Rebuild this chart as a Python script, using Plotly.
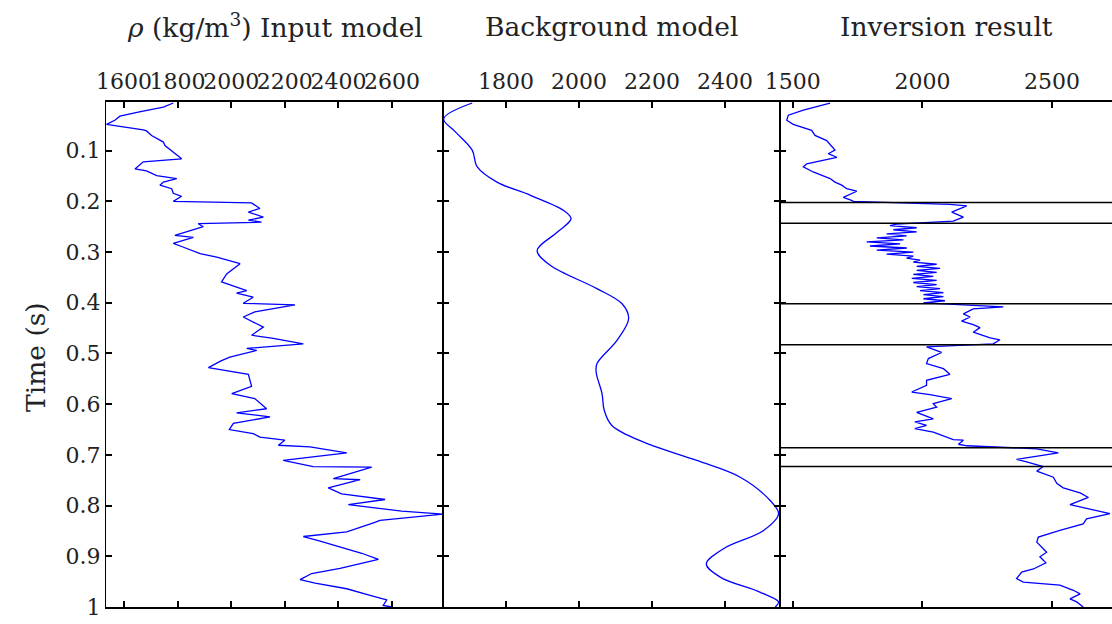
import plotly.graph_objects as go

# ---- density logs (time in s, density in kg/m^3) ----
t_input = [0.006, 0.014, 0.024, 0.032, 0.040, 0.048, 0.059, 0.061, 0.070, 0.083,
           0.090, 0.103, 0.116, 0.122, 0.136, 0.140, 0.149, 0.155, 0.162, 0.168,
           0.175, 0.184, 0.190, 0.200, 0.203, 0.214, 0.221, 0.231, 0.237, 0.241,
           0.244, 0.250, 0.261, 0.267, 0.271, 0.283, 0.289, 0.303, 0.310, 0.323,
           0.343, 0.359, 0.376, 0.381, 0.389, 0.401, 0.404, 0.412, 0.418, 0.428,
           0.448, 0.464, 0.470, 0.481, 0.490, 0.494, 0.507, 0.515, 0.528, 0.541,
           0.565, 0.579, 0.589, 0.609, 0.617, 0.625, 0.638, 0.650, 0.658, 0.665,
           0.671, 0.681, 0.684, 0.696, 0.711, 0.723, 0.724, 0.747, 0.749, 0.765,
           0.777, 0.788, 0.798, 0.811, 0.817, 0.829, 0.833, 0.852, 0.861, 0.869,
           0.879, 0.894, 0.906, 0.924, 0.934, 0.946, 0.953, 0.964, 0.977, 0.986,
           0.997, 1.000]
rho_input = [1784, 1747, 1653, 1585, 1566, 1535, 1672, 1684, 1703, 1747,
             1753, 1784, 1815, 1672, 1641, 1684, 1722, 1797, 1747, 1734,
             1778, 1784, 1815, 1784, 2076, 2107, 2064, 2120, 2064, 2113,
             1877, 1896, 1821, 1790, 1859, 1784, 1815, 1884, 1946, 2033,
             1983, 1964, 2058, 2020, 2082, 2045, 2238, 2151, 2088, 2045,
             2120, 2076, 2157, 2269, 2058, 2095, 1995, 1960, 1915, 2064,
             2076, 2002, 2088, 2132, 2020, 2145, 2008, 1993, 2082, 2107,
             2200, 2176, 2294, 2431, 2194, 2306, 2524, 2381, 2481, 2362,
             2412, 2574, 2437, 2636, 2790, 2555, 2536, 2431, 2269, 2325,
             2393, 2487, 2549, 2406, 2300, 2257, 2313, 2431, 2518, 2580,
             2567, 2599]

t_background = [0.006, 0.037, 0.063, 0.099, 0.132, 0.162, 0.188, 0.218, 0.234, 0.261,
                0.297, 0.326, 0.372, 0.402, 0.431, 0.474, 0.520, 0.537, 0.579, 0.612,
                0.642, 0.675, 0.711, 0.744, 0.790, 0.816, 0.849, 0.885, 0.915, 0.941,
                0.971, 0.990, 1.000]
rho_background = [1707, 1629, 1661, 1707, 1721, 1775, 1867, 1958, 1978, 1940,
                  1885, 1921, 2049, 2118, 2136, 2104, 2049, 2047, 2063, 2069,
                  2090, 2177, 2323, 2442, 2524, 2547, 2506, 2396, 2349, 2387,
                  2497, 2547, 2538]

t_inversion = [0.006, 0.020, 0.030, 0.040, 0.048, 0.060, 0.070, 0.080, 0.099, 0.106,
               0.113, 0.119, 0.126, 0.132, 0.142, 0.155, 0.162, 0.168, 0.175, 0.180,
               0.192, 0.198, 0.200, 0.206, 0.209, 0.221, 0.231, 0.239, 0.245,
               0.248, 0.252, 0.256, 0.260, 0.264, 0.268, 0.272, 0.276, 0.280, 0.284,
               0.288, 0.292, 0.296, 0.300, 0.304, 0.308, 0.312, 0.316, 0.320, 0.324,
               0.328, 0.332, 0.336, 0.340, 0.344, 0.348, 0.352, 0.356, 0.360, 0.364,
               0.368, 0.372, 0.376, 0.380, 0.384, 0.388, 0.392, 0.396, 0.400,
               0.408, 0.412, 0.422, 0.428, 0.436, 0.443, 0.449, 0.458, 0.469, 0.473,
               0.481, 0.487, 0.498, 0.510, 0.520, 0.530, 0.541, 0.553, 0.563, 0.576,
               0.581, 0.589, 0.599, 0.606, 0.616, 0.629, 0.635, 0.642, 0.648, 0.655,
               0.662, 0.670, 0.671, 0.679, 0.682, 0.688, 0.696, 0.709, 0.714, 0.723,
               0.732, 0.744, 0.756, 0.765, 0.775, 0.784, 0.798, 0.806, 0.816, 0.826,
               0.836, 0.849, 0.862, 0.872, 0.892, 0.901, 0.913, 0.925, 0.931, 0.944,
               0.951, 0.957, 0.967, 0.974, 0.984, 0.990, 1.000]
rho_inversion = [1644, 1541, 1483, 1477, 1502, 1573, 1586, 1631, 1663, 1637,
                 1670, 1618, 1554, 1541, 1579, 1644, 1663, 1689, 1708, 1747,
                 1695, 1727, 1734, 2106, 2171, 2113, 2158, 2119, 1901,
                 1875, 1978, 1888, 1978, 1862, 1939, 1824, 1927, 1785, 1914,
                 1798, 1940, 1824, 1965, 1862, 1965, 1939, 1991, 1965, 2055,
                 1978, 2068, 1978, 2055, 1965, 2042, 1959, 2055, 1965, 2055,
                 1978, 2068, 1991, 2081, 2004, 2081, 2004, 2087, 2004,
                 2312, 2196, 2158, 2184, 2151, 2196, 2222, 2196, 2261, 2299,
                 2273, 2016, 2074, 2023, 2016, 2081, 2106, 2016, 2016, 1959,
                 2029, 2113, 2042, 2055, 1978, 2042, 1971, 2016, 1971, 2042,
                 2081, 2119, 2158, 2139, 2171, 2441, 2524, 2363, 2402, 2466,
                 2441, 2505, 2518, 2543, 2608, 2640, 2569, 2633, 2723, 2633,
                 2620, 2530, 2447, 2441, 2479, 2453, 2476, 2428, 2383, 2363,
                 2389, 2530, 2582, 2608, 2569, 2595, 2620]

# interpreted layer boundaries (s)
layer_times = [0.202, 0.243, 0.402, 0.483, 0.686, 0.723]

panel_titles = ["<i>ρ</i> (kg/m<sup>3</sup>) Input model", "Background model", "Inversion result"]
x_ranges = [[1533, 2790], [1627, 2551], [1451, 2731]]
x_ticks = [[1600, 1800, 2000, 2200, 2400, 2600], [1800, 2000, 2200, 2400], [1500, 2000, 2500]]
time_ticks = [0.1, 0.2, 0.3, 0.4, 0.5, 0.6, 0.7, 0.8, 0.9, 1.0]
time_labels = ["0.1", "0.2", "0.3", "0.4", "0.5", "0.6", "0.7", "0.8", "0.9", "1"]

FONT = "DejaVu Serif"
TXT = "#222222"
BLUE = "#0000ff"

W, H = 1112, 624
ML, MR, MT, MB = 106, 0, 102, 17
PW = W - ML - MR
PH = H - MT - MB

# panel boundaries in pixels
edges_px = [106, 443, 780, 1112]
domains = [[(edges_px[i] - ML) / PW, (edges_px[i + 1] - ML) / PW] for i in range(3)]

fig = go.Figure()

series = [(rho_input, t_input, "linear"),
          (rho_background, t_background, "spline"),
          (rho_inversion, t_inversion, "linear")]
for i, (xv, yv, shape) in enumerate(series):
    fig.add_trace(go.Scatter(
        x=xv, y=yv, mode="lines",
        line=dict(color=BLUE, width=1.3, shape=shape, smoothing=1.0),
        xaxis="x" if i == 0 else f"x{i+1}",
        yaxis="y" if i == 0 else f"y{i+1}",
        showlegend=False, hoverinfo="skip",
    ))

axis_common = dict(
    showgrid=False, zeroline=False, showline=True, linecolor="black", linewidth=1.2,
    ticks="inside", ticklen=6, tickwidth=1.5, tickcolor="black", tickangle=0,
    tickfont=dict(family=FONT, size=22, color=TXT),
)

layout = dict(
    width=W, height=H,
    margin=dict(l=ML, r=MR, t=MT, b=MB, pad=0),
    paper_bgcolor="white", plot_bgcolor="white",
    font=dict(family=FONT, color=TXT),
)

for i in range(3):
    xkey = "xaxis" if i == 0 else f"xaxis{i+1}"
    ykey = "yaxis" if i == 0 else f"yaxis{i+1}"
    ysuffix = "y" if i == 0 else f"y{i+1}"
    xsuffix = "x" if i == 0 else f"x{i+1}"
    layout[xkey] = dict(
        axis_common, domain=domains[i], range=x_ranges[i], side="top",
        mirror="ticks", tickvals=x_ticks[i], ticktext=[str(v) for v in x_ticks[i]],
        anchor=ysuffix, ticklabelstandoff=2, linewidth=1.8,
    )
    layout[ykey] = dict(
        axis_common, domain=[0, 1], range=[1.0, 0.004], anchor=xsuffix,
        mirror="ticks" if i < 2 else False,
        tickvals=time_ticks, ticktext=time_labels, showticklabels=(i == 0),
    )

fig.update_layout(**layout)

# layer boundary markers on the inversion panel
for tb in layer_times:
    fig.add_shape(type="line", xref="x3 domain", yref="y3", x0=0, x1=1, y0=tb, y1=tb,
                  line=dict(color="black", width=1.5))

# panel titles
for i, title in enumerate(panel_titles):
    cx = (sum(domains[i]) / 2)
    fig.add_annotation(text=title, xref="paper", yref="paper", x=cx, y=(H - MB - 26) / PH,
                       xanchor="center", yanchor="middle", showarrow=False,
                       font=dict(family=FONT, size=26.5, color=TXT))

# vertical axis title
fig.add_annotation(text="Time (s)", xref="paper", yref="paper", x=(35 - ML) / PW,
                   y=(H - MB - 357) / PH, xanchor="center", yanchor="middle",
                   textangle=-90, showarrow=False,
                   font=dict(family=FONT, size=26.5, color=TXT))

fig.write_html("out.html")
